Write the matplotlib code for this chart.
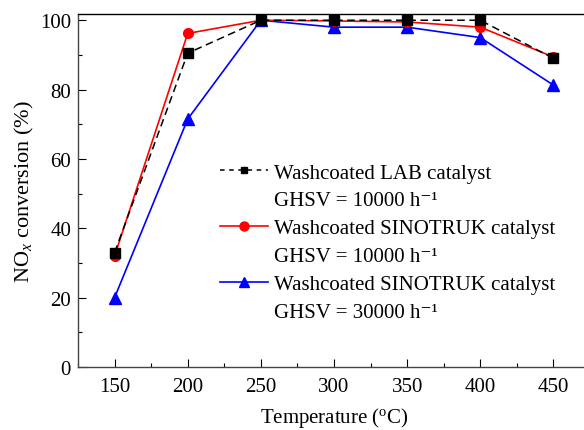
import matplotlib
matplotlib.use("Agg")
import matplotlib.pyplot as plt
from matplotlib.lines import Line2D

plt.rcParams['font.family'] = ['Liberation Serif', 'DejaVu Serif']
plt.rcParams['mathtext.fontset'] = 'custom'
plt.rcParams['mathtext.rm'] = 'Liberation Serif'
plt.rcParams['mathtext.it'] = 'Liberation Serif:italic'

temperature = [150, 200, 250, 300, 350, 400, 450]
lab_10000 = [33, 90.5, 100, 100, 100, 100, 89]
sino_10000 = [32, 96.2, 100, 99.8, 99.5, 98, 89.4]
sino_30000 = [20, 71.5, 100, 98, 98, 95, 81.3]

labels_line1 = ["Washcoated LAB catalyst", "Washcoated SINOTRUK catalyst", "Washcoated SINOTRUK catalyst"]
labels_line2 = ["GHSV = 10000 h\u207b\u00b9", "GHSV = 10000 h\u207b\u00b9", "GHSV = 30000 h\u207b\u00b9"]

W, H = 584, 431
fig = plt.figure(figsize=(W/100, H/100), dpi=100)
left, right, top, bottom = 78, 590, 15, 368
ax = fig.add_axes([left/W, 1 - bottom/H, (right-left)/W, (bottom-top)/H])

style1 = dict(color='black', ls=(0, (5, 3)), lw=1.1, marker='s', mfc='black', mec='black')
style2 = dict(color='red', lw=1.2, marker='o', mfc='red', mec='red')
style3 = dict(color='blue', lw=1.2, marker='^', mfc='blue', mec='blue')

ax.plot(temperature, lab_10000, ms=7, zorder=3, **style1)
ax.plot(temperature, sino_10000, ms=7, zorder=2, **style2)
ax.plot(temperature, sino_30000, ms=8, zorder=1, **style3)

ax.set_xlim(125, 475)
ax.set_ylim(0, 101.8)
ax.set_xticks([150, 200, 250, 300, 350, 400, 450])
ax.set_xticks(range(125, 476, 25), minor=True)
ax.set_yticks(range(0, 101, 20))
ax.set_yticks(range(0, 101, 10), minor=True)
ax.tick_params(which='both', direction='in', top=False, right=False, labelsize=15)
ax.tick_params(which='major', length=5.5, width=0.8)
ax.tick_params(which='minor', length=3, width=0.8)
ax.tick_params(axis='x', pad=7)
ax.tick_params(axis='y', pad=5)
for s in ax.spines.values():
    s.set_linewidth(1.0)
ax.spines['left'].set_color('#444444')
ax.spines['bottom'].set_color('#444444')

ax.set_xlabel('Temperature ($^{\\mathrm{o}}$C)', fontsize=15, labelpad=7)
ax.set_ylabel('NO$_{\\mathit{x}}$ conversion (%)', fontsize=16, labelpad=3)

h1 = Line2D([], [], ms=4.5, ls=(0, (3, 3)), **{k: v for k, v in style1.items() if k != 'ls'})
h2 = Line2D([], [], ms=6.5, **style2)
h3 = Line2D([], [], ms=7, **style3)
blank = Line2D([], [], color='none')
handles = [h1, blank, h2, blank, h3, blank]
labels = [labels_line1[0], labels_line2[0], labels_line1[1], labels_line2[1], labels_line1[2], labels_line2[2]]
leg = ax.legend(handles, labels, loc='upper left', bbox_to_anchor=(0.277, 0.578),
                frameon=False, fontsize=15, handlelength=2.3, handletextpad=0.3,
                labelspacing=0.4, borderpad=0, borderaxespad=0)

fig.savefig('out.png', dpi=100)
